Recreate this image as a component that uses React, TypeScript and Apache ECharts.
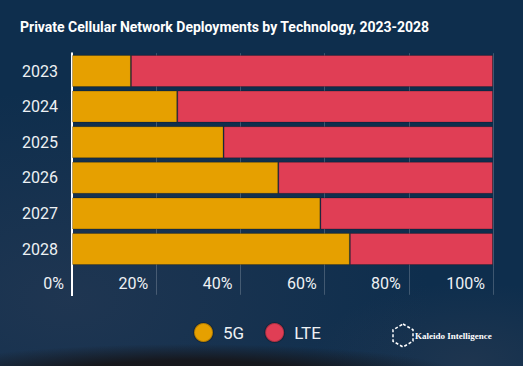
import React, { useEffect, useRef } from "react";
import * as echarts from "echarts";

const categories = ["2023", "2024", "2025", "2026", "2027", "2028"];
const share5G = [14, 25, 36, 49, 59, 66];
const shareLTE = [86, 75, 64, 51, 41, 34];
const seriesNames = ["5G", "LTE"];
const colors = ["#E6A000", "#E03E55"];
const titleText = "Private Cellular Network Deployments by Technology, 2023-2028";
const logoText = "Kaleido Intelligence";

export default function App() {
  const ref = useRef<HTMLDivElement>(null);
  useEffect(() => {
    if (!ref.current) return;
    const chart = echarts.init(ref.current, undefined, { renderer: "svg" });
    const gridTop = 53.2;
    const gridBottomY = 266.8;
    const option: any = {
      animation: false,
      backgroundColor: "transparent",
      textStyle: { fontFamily: "Roboto" },
      title: {
        text: titleText,
        left: 20,
        top: 20,
        padding: 0,
        textStyle: { color: "#ffffff", fontSize: 14, fontWeight: "bold", fontFamily: "Roboto" },
      },
      legend: {
        data: seriesNames,
        left: 193,
        top: 322,
        padding: 0,
        icon: "circle",
        itemWidth: 19,
        itemHeight: 19,
        itemGap: 20,
        textStyle: { color: "#eef1f4", fontSize: 17, fontFamily: "Roboto", padding: [0, 0, 0, 5] },
      },
      grid: { left: 72, right: 30, top: gridTop, bottom: 366 - gridBottomY, containLabel: false },
      xAxis: {
        type: "value",
        min: 0,
        max: 100,
        interval: 20,
        axisLine: { show: false },
        axisTick: { show: true, length: 28, lineStyle: { color: "rgba(255,255,255,0.2)", width: 1 } },
        splitLine: { show: true, lineStyle: { color: "rgba(255,255,255,0.2)", width: 1 } },
        axisLabel: {
          color: "#eef1f4",
          fontSize: 16,
          fontFamily: "Roboto",
          margin: 9,
          align: "right",
          padding: [0, 8, 0, 0],
          formatter: "{value}%",
        },
      },
      yAxis: {
        type: "category",
        data: categories,
        inverse: true,
        axisLine: { show: true, lineStyle: { color: "#ffffff", width: 2 } },
        axisTick: { show: false },
        axisLabel: { color: "#eef1f4", fontSize: 16, fontFamily: "Roboto", margin: 14 },
      },
      series: [
        {
          name: seriesNames[0],
          type: "bar",
          stack: "total",
          data: share5G,
          barCategoryGap: "10%",
          itemStyle: { color: colors[0], borderColor: "rgba(0,0,0,0.22)", borderWidth: 1 },
        },
        {
          name: seriesNames[1],
          type: "bar",
          stack: "total",
          data: shareLTE,
          barCategoryGap: "10%",
          itemStyle: { color: colors[1], borderColor: "rgba(0,0,0,0.22)", borderWidth: 1 },
        },
      ],
      graphic: [
        {
          type: "line",
          shape: { x1: 72, y1: gridBottomY - 1, x2: 72, y2: 296 },
          style: { stroke: "#ffffff", lineWidth: 2 },
          z: 100,
        },
        {
          type: "polygon",
          shape: {
            points: [
              [403, 324],
              [413, 329.8],
              [413, 341.2],
              [403, 347],
              [393, 341.2],
              [393, 329.8],
            ],
          },
          style: { fill: "none", stroke: "#ffffff", lineWidth: 1.5, lineDash: [3, 2] },
        },
        {
          type: "text",
          x: 415,
          y: 335.5,
          style: {
            text: logoText,
            fill: "#ffffff",
            font: "bold 9px 'Liberation Serif'",
            verticalAlign: "middle",
            align: "left",
          },
        },
      ],
    };
    chart.setOption(option);
    return () => chart.dispose();
  }, []);
  const bg = [
    "radial-gradient(ellipse 270px 30px at 190px 374px, rgba(22,22,26,1) 0%, rgba(22,22,26,0.95) 45%, rgba(22,22,26,0) 100%)",
    "radial-gradient(ellipse 360px 210px at 70px 300px, rgba(45,60,85,0.55) 0%, rgba(45,60,85,0) 100%)",
    "radial-gradient(ellipse 160px 80px at 470px 362px, rgba(50,62,82,0.45) 0%, rgba(50,62,82,0) 100%)",
    "#0e2e4d",
  ].join(", ");
  return (
    <div
      ref={ref}
      style={{ position: "fixed", left: 0, top: 0, width: 523, height: 366, background: bg }}
    />
  );
}
